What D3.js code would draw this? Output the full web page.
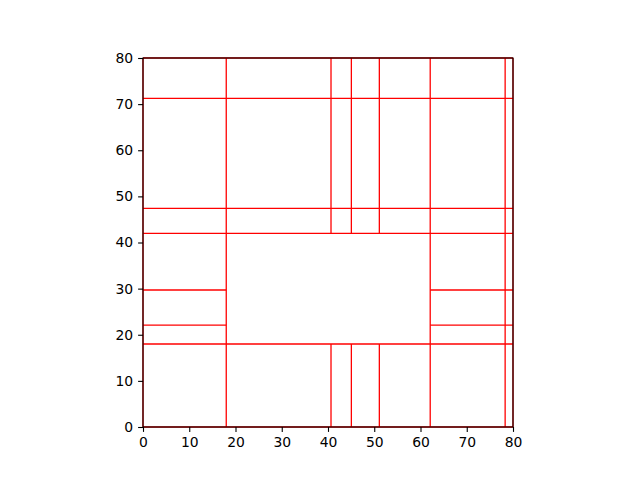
<!DOCTYPE html>
<html>
<head>
<meta charset="utf-8">
<script src="https://cdn.jsdelivr.net/npm/d3@7"></script>
<style>
  body { margin: 0; background: #fff; }
  text { font-family: "DejaVu Sans", sans-serif; }
</style>
</head>
<body>
<div id="chart"></div>
<script>
// split positions, each with the range it covers: [position, from, to]
const verticalSplits = [
  [0, 0, 80], [18, 0, 80],
  [40.65, 0, 18], [40.65, 42, 80],
  [45.05, 0, 18], [45.05, 42, 80],
  [51.1, 0, 18], [51.1, 42, 80],
  [62.1, 0, 80], [78.3, 0, 80], [80, 0, 80]
];
const horizontalSplits = [
  [0, 0, 80], [18, 0, 80],
  [22.1, 0, 18], [22.1, 62.1, 80],
  [29.7, 0, 18], [29.7, 62.1, 80],
  [42, 0, 80], [47.4, 0, 80], [71.25, 0, 80], [80, 0, 80]
];
const xTicks = [0, 10, 20, 30, 40, 50, 60, 70, 80];
const yTicks = [0, 10, 20, 30, 40, 50, 60, 70, 80];

const w = 640, h = 480;
const axLeft = 143, axRight = 513, axTop = 58, axBottom = 427;

const x = d3.scaleLinear().domain([0, 80]).range([axLeft, axRight]);
const y = d3.scaleLinear().domain([0, 80]).range([axBottom, axTop]);

const svg = d3.select("#chart").append("svg")
  .attr("width", w)
  .attr("height", h);

svg.selectAll("line.v")
  .data(verticalSplits)
  .enter()
  .append("line")
  .attr("class", "v")
  .attr("x1", d => x(d[0]))
  .attr("x2", d => x(d[0]))
  .attr("y1", d => y(d[1]))
  .attr("y2", d => y(d[2]))
  .attr("stroke", "red")
  .attr("stroke-width", 1.3);

svg.selectAll("line.h")
  .data(horizontalSplits)
  .enter()
  .append("line")
  .attr("class", "h")
  .attr("y1", d => y(d[0]))
  .attr("y2", d => y(d[0]))
  .attr("x1", d => x(d[1]))
  .attr("x2", d => x(d[2]))
  .attr("stroke", "red")
  .attr("stroke-width", 1.3);

const xAxis = d3.axisBottom(x).tickValues(xTicks).tickSizeInner(4.9).tickSizeOuter(0).tickPadding(4.9);
const yAxis = d3.axisLeft(y).tickValues(yTicks).tickSizeInner(4.9).tickSizeOuter(0).tickPadding(4.9);

const gx = svg.append("g")
  .attr("transform", `translate(0, ${axBottom})`)
  .call(xAxis);
const gy = svg.append("g")
  .attr("transform", `translate(${axLeft}, 0)`)
  .call(yAxis);

[gx, gy].forEach(g => {
  g.select(".domain").remove();
  g.selectAll("line").attr("stroke", "#000").attr("stroke-width", 1.1);
  g.selectAll("text").attr("fill", "#000").style("font-size", "13.9px").style("font-family", "DejaVu Sans");
});

// spines
svg.append("rect")
  .attr("x", axLeft)
  .attr("y", axTop)
  .attr("width", axRight - axLeft)
  .attr("height", axBottom - axTop)
  .attr("fill", "none")
  .attr("stroke", "#000")
  .attr("stroke-width", 1.1);
</script>
</body>
</html>
